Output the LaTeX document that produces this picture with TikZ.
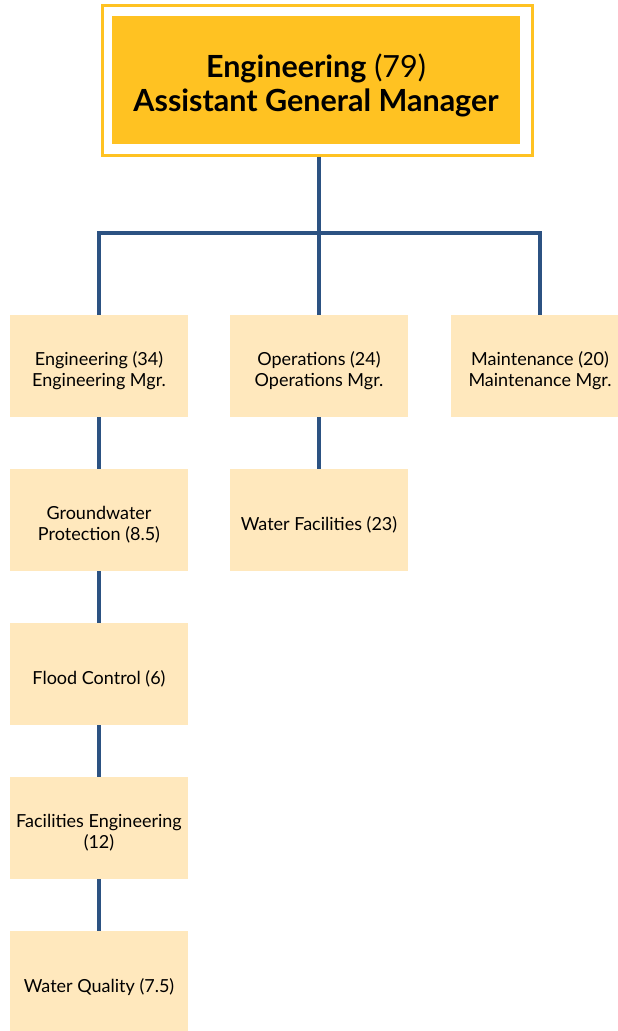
\documentclass[tikz,border=0pt]{standalone}
\usepackage{fontspec}
\setmainfont{Lato}
\definecolor{gold}{HTML}{FFC222}
\definecolor{pale}{HTML}{FFE8BD}
\definecolor{navy}{HTML}{2C5282}
\begin{document}
\begin{tikzpicture}[x=1pt,y=-1pt,
  unit/.style={fill=pale,minimum width=178pt,minimum height=102pt,inner sep=0pt},
  lbl/.style={align=center,font=\fontsize{18}{21}\selectfont,inner sep=0pt},
  link/.style={draw=navy,line width=4pt}]
\useasboundingbox (0,0) rectangle (618,1031);
\node[draw=gold,line width=3pt,minimum width=430pt,minimum height=150pt,inner sep=0pt] (outer) at (317,80) {};
\node[fill=gold,minimum width=408pt,minimum height=128pt,inner sep=0pt] (top) at (316,80) {};
\node[align=center,inner sep=0pt,font=\fontsize{30.5}{34}\selectfont] (toptext) at (316,85) {\textbf{Engineering} (79)\\\textbf{Assistant General Manager}};
\node[unit] (eng) at (99,366) {};
\node[unit] (ops) at (319,366) {};
\node[unit] (mnt) at (540,366) {};
\node[unit] (gw) at (99,520) {};
\node[unit] (wf) at (319,520) {};
\node[unit] (fc) at (99,674) {};
\node[unit] (fe) at (99,828) {};
\node[unit] (wq) at (99,982) {};
\node[lbl] (engt) at (99,371) {Engineering (34)\\Engineering Mgr.};
\node[lbl] (opst) at (319,371) {Operations (24)\\Operations Mgr.};
\node[lbl] (mntt) at (540,371) {Maintenance (20)\\Maintenance Mgr.};
\node[lbl] (gwt) at (99,525) {Groundwater\\Protection (8.5)};
\node[lbl] (wft) at (319,525) {Water Facilities (23)};
\node[lbl] (fct) at (99,679) {Flood Control (6)};
\node[lbl] (fet) at (99,833) {Facilities Engineering\\(12)};
\node[lbl] (wqt) at (99,987) {Water Quality (7.5)};
\coordinate (bus) at (319,233);
\draw[link] (outer.south -| bus) -- (bus);
\draw[link] (eng.north) |- (bus) -| (mnt.north);
\draw[link] (bus) -- (ops.north);
\draw[link] (eng) -- (gw);
\draw[link] (gw) -- (fc);
\draw[link] (fc) -- (fe);
\draw[link] (fe) -- (wq);
\draw[link] (ops) -- (wf);
\end{tikzpicture}
\end{document}
